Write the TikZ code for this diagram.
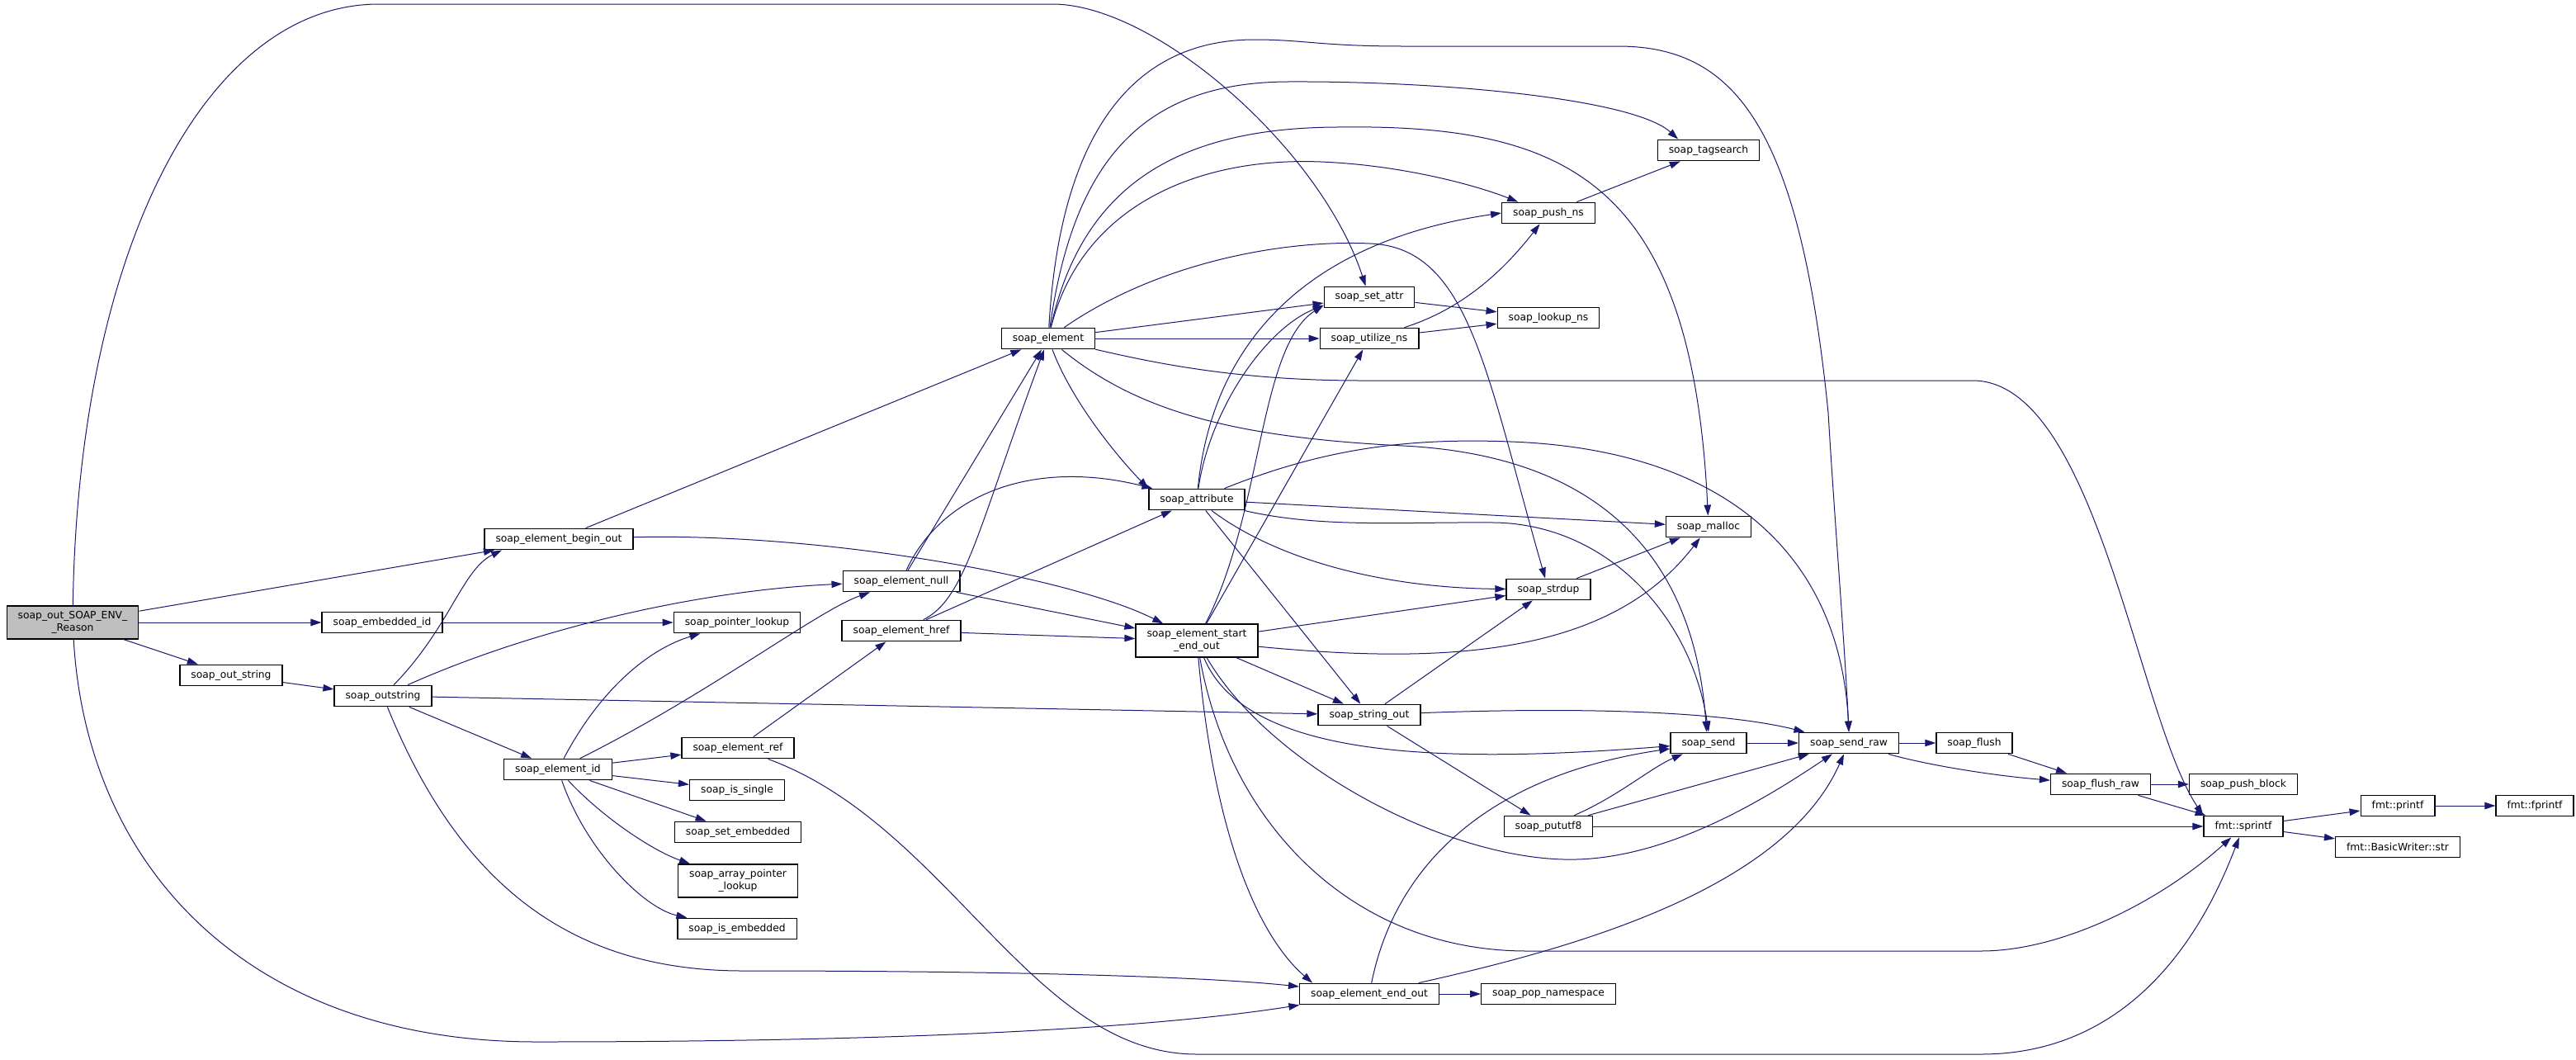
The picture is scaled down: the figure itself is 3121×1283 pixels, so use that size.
\documentclass[tikz,border=0pt]{standalone}
\usepackage{fontspec}
\newfontfamily\graphfont{DejaVu Sans}
\usetikzlibrary{arrows.meta}
\definecolor{callblue}{HTML}{191970}
\definecolor{rootgray}{HTML}{BFBFBF}

\begin{document}
\begin{tikzpicture}[x=1pt,y=-1pt,
  fn/.style={draw=black,line width=1.3pt,fill=white,inner xsep=13.5pt,inner ysep=0pt,
    minimum height=25.5pt,font=\graphfont\fontsize{12.3pt}{15pt}\selectfont},
  fntwo/.style={fn,align=center,minimum height=40pt},
  call/.style={draw=callblue,line width=1pt,-{Triangle[length=13pt,width=8.5pt]}}]
\useasboundingbox (0,0) rectangle (3121,1283);
\fill[white] (0,0) rectangle (3121,1283);

% functions, one column per call depth
\node[fntwo,fill=rootgray] (reason) at (88,754) {soap\_out\_SOAP\_ENV\_\\\_Reason};
\node[fn] (outstr) at (280,818) {soap\_out\_string};
\node[fn] (embid) at (463,754) {soap\_embedded\_id};
\node[fn] (outstring) at (464,843) {soap\_outstring};
\node[fn] (beginout) at (677,653) {soap\_element\_begin\_out};
\node[fn] (elemid) at (676,932) {soap\_element\_id};
\node[fn] (ptrlookup) at (893,754) {soap\_pointer\_lookup};
\node[fn] (elemref) at (894,906) {soap\_element\_ref};
\node[fn] (issingle) at (893,957) {soap\_is\_single};
\node[fn] (setemb) at (894,1008) {soap\_set\_embedded};
\node[fntwo] (arrlookup) at (894,1067) {soap\_array\_pointer\\\_lookup};
\node[fn] (isemb) at (893,1125) {soap\_is\_embedded};
\node[fn] (elemnull) at (1092,704) {soap\_element\_null};
\node[fn] (elemhref) at (1092,764) {soap\_element\_href};
\node[fn] (element) at (1270,410) {soap\_element};
\node[fn] (attribute) at (1450,605) {soap\_attribute};
\node[fntwo] (startend) at (1450,776) {soap\_element\_start\\\_end\_out};
\node[fn] (setattr) at (1659,360) {soap\_set\_attr};
\node[fn] (utilize) at (1659,410) {soap\_utilize\_ns};
\node[fn] (stringout) at (1659,866) {soap\_string\_out};
\node[fn] (endout) at (1659,1204) {soap\_element\_end\_out};
\node[fn] (pushns) at (1876,258) {soap\_push\_ns};
\node[fn] (lookupns) at (1876,385) {soap\_lookup\_ns};
\node[fn] (strdup) at (1876,714) {soap\_strdup};
\node[fn] (pututf) at (1876,1001) {soap\_pututf8};
\node[fn] (popns) at (1876,1204) {soap\_pop\_namespace};
\node[fn] (tagsearch) at (2070,182) {soap\_tagsearch};
\node[fn] (malloc) at (2070,638) {soap\_malloc};
\node[fn] (send) at (2070,900) {soap\_send};
\node[fn] (sendraw) at (2240,900) {soap\_send\_raw};
\node[fn] (flush) at (2392,900) {soap\_flush};
\node[fn] (flushraw) at (2545,950) {soap\_flush\_raw};
\node[fn] (pushblock) at (2718,950) {soap\_push\_block};
\node[fn] (sprintf) at (2718,1001) {fmt::sprintf};
\node[fn] (printf) at (2905,976) {fmt::printf};
\node[fn] (bwstr) at (2905,1026) {fmt::BasicWriter::str};
\node[fn] (fprintf) at (3071,976) {fmt::fprintf};

% calls
\draw[call] (reason) -- (beginout);
\draw[call] (reason) -- (embid);
\draw[call] (reason) -- (outstr);
\draw[call] (reason) .. controls (95,300) and (250,5) .. (459,5) -- (1275,5)
  .. controls (1400,5) and (1600,180) .. (setattr);
\draw[call] (reason) .. controls (105,1050) and (300,1262) .. (650,1262)
  .. controls (1100,1262) and (1400,1245) .. (endout);
\draw[call] (embid) -- (ptrlookup);
\draw[call] (outstr) -- (outstring);
\draw[call] (outstring) .. controls (545,760) and (560,690) .. (beginout.191);
\draw[call] (outstring) .. controls (650,760) and (850,715) .. (elemnull);
\draw[call] (outstring) -- (stringout);
\draw[call] (outstring) -- (elemid);
\draw[call] (outstring) .. controls (560,1080) and (700,1176) .. (900,1176)
  .. controls (1200,1176) and (1450,1182) .. (endout);
\draw[call] (beginout) -- (element);
\draw[call] (beginout) .. controls (1000,645) and (1300,700) .. (startend);
\draw[call] (elemid) .. controls (730,830) and (790,785) .. (ptrlookup);
\draw[call] (elemid) .. controls (860,840) and (990,740) .. (elemnull);
\draw[call] (elemid) -- (elemref);
\draw[call] (elemid) -- (issingle);
\draw[call] (elemid) -- (setemb);
\draw[call] (elemid) .. controls (730,990) and (790,1030) .. (arrlookup);
\draw[call] (elemid) .. controls (710,1030) and (780,1100) .. (isemb);
\draw[call] (elemref) -- (elemhref);
\draw[call] (elemref) .. controls (1150,1000) and (1250,1277) .. (1450,1277) -- (2400,1277)
  .. controls (2600,1277) and (2680,1100) .. (sprintf);
\draw[call] (elemnull) -- (element);
\draw[call] (elemnull) .. controls (1140,600) and (1250,555) .. (attribute);
\draw[call] (elemnull) -- (startend);
\draw[call] (elemhref) .. controls (1170,725) and (1185,640) .. (element);
\draw[call] (elemhref) -- (attribute);
\draw[call] (elemhref) -- (startend);
\draw[call] (element) .. controls (1285,150) and (1380,48) .. (1520,48)
  .. controls (1580,48) and (1600,56) .. (1700,56) -- (1960,56)
  .. controls (2100,56) and (2180,150) .. (2215,500)
  .. controls (2222,620) and (2235,780) .. (sendraw.north);
\draw[call] (element) .. controls (1300,200) and (1380,100) .. (1560,99)
  .. controls (1750,98) and (1980,120) .. (tagsearch.160);
\draw[call] (element) .. controls (1310,230) and (1420,155) .. (1620,154)
  .. controls (1900,150) and (2050,220) .. (malloc);
\draw[call] (element) .. controls (1310,250) and (1450,190) .. (1600,196)
  .. controls (1700,200) and (1790,225) .. (pushns.160);
\draw[call] (element) .. controls (1400,320) and (1550,290) .. (1660,295)
  .. controls (1780,300) and (1800,450) .. (strdup);
\draw[call] (element) -- (setattr);
\draw[call] (element) -- (utilize);
\draw[call] (element) .. controls (1300,490) and (1360,560) .. (attribute.north west);
\draw[call] (element) .. controls (1380,500) and (1500,530) .. (1700,540)
  .. controls (1900,550) and (2050,640) .. (send.100);
\draw[call] (element) .. controls (1400,440) and (1500,461) .. (1650,461) -- (2390,461)
  .. controls (2540,461) and (2590,870) .. (sprintf.north west);
\draw[call] (attribute) .. controls (1465,500) and (1530,400) .. (setattr.190);
\draw[call] (attribute) .. controls (1470,400) and (1600,290) .. (pushns.west);
\draw[call] (attribute) .. controls (1600,545) and (1700,530) .. (1830,535)
  .. controls (2100,545) and (2230,680) .. (sendraw.north);
\draw[call] (attribute) -- (malloc);
\draw[call] (attribute) .. controls (1600,640) and (1700,632) .. (1810,633)
  .. controls (1950,635) and (2050,750) .. (send.north);
\draw[call] (attribute) .. controls (1550,680) and (1680,712) .. (strdup);
\draw[call] (attribute) -- (stringout);
\draw[call] (startend) .. controls (1530,620) and (1525,420) .. (setattr.190);
\draw[call] (startend) -- (utilize);
\draw[call] (startend) -- (strdup);
\draw[call] (startend) .. controls (1750,805) and (1950,795) .. (malloc);
\draw[call] (startend) -- (stringout);
\draw[call] (startend) .. controls (1510,920) and (1750,925) .. (send);
\draw[call] (startend) .. controls (1540,930) and (1760,1045) .. (1910,1041)
  .. controls (2030,1038) and (2150,960) .. (sendraw);
\draw[call] (startend) .. controls (1470,1000) and (1520,1130) .. (endout.169);
\draw[call] (startend) .. controls (1490,1000) and (1640,1152) .. (1850,1152) -- (2400,1152)
  .. controls (2500,1152) and (2620,1090) .. (sprintf);
\draw[call] (setattr) -- (lookupns);
\draw[call] (utilize) -- (lookupns);
\draw[call] (utilize) .. controls (1770,375) and (1820,330) .. (pushns);
\draw[call] (pushns) -- (tagsearch);
\draw[call] (strdup) -- (malloc);
\draw[call] (stringout) -- (strdup);
\draw[call] (stringout) .. controls (1950,855) and (2100,865) .. (sendraw);
\draw[call] (stringout) -- (pututf);
\draw[call] (endout) .. controls (1690,1050) and (1800,940) .. (send);
\draw[call] (endout) .. controls (1900,1150) and (2160,1080) .. (sendraw);
\draw[call] (endout) -- (popns);
\draw[call] (pututf) .. controls (1960,965) and (2000,930) .. (send);
\draw[call] (pututf) -- (sendraw);
\draw[call] (pututf) -- (sprintf);
\draw[call] (send) -- (sendraw);
\draw[call] (sendraw) -- (flush);
\draw[call] (sendraw) .. controls (2340,928) and (2420,940) .. (flushraw);
\draw[call] (flush) -- (flushraw);
\draw[call] (flushraw) -- (pushblock);
\draw[call] (flushraw) -- (sprintf);
\draw[call] (sprintf) -- (printf);
\draw[call] (sprintf) -- (bwstr);
\draw[call] (printf) -- (fprintf);
\end{tikzpicture}
\end{document}
